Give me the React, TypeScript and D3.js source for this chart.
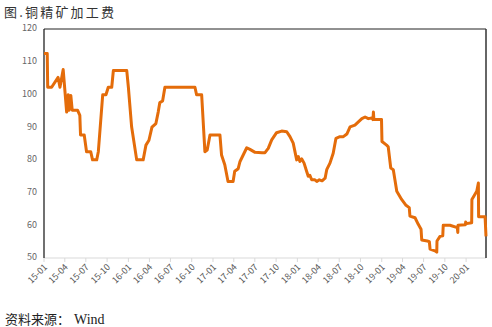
import React from "react";
import * as d3 from "d3";

const title = "图.铜精矿加工费";
const sourceLabel = "资料来源：";
const sourceName = "Wind";

const dates: string[] = [
  "2015-01-01","2015-01-15","2015-01-17","2015-02-03","2015-03-03","2015-03-11","2015-03-25","2015-04-09","2015-04-16","2015-04-20",
  "2015-04-27","2015-05-03","2015-05-26","2015-06-05","2015-06-08","2015-06-24","2015-07-04","2015-07-22","2015-07-30","2015-08-17",
  "2015-08-24","2015-09-12","2015-09-26","2015-10-06","2015-10-21","2015-10-28","2015-12-25","2016-01-01","2016-01-15","2016-02-06",
  "2016-03-05","2016-03-17","2016-03-30","2016-04-12","2016-04-29","2016-05-09","2016-05-16","2016-05-28","2016-06-07","2016-10-15",
  "2016-10-22","2016-11-13","2016-11-27","2016-12-07","2016-12-19","2017-01-31","2017-02-07","2017-02-21","2017-03-07","2017-03-29",
  "2017-04-05","2017-04-20","2017-04-28","2017-05-27","2017-06-10","2017-07-02","2017-08-01","2017-08-14","2017-08-28","2017-09-12",
  "2017-10-03","2017-10-25","2017-11-16","2017-11-30","2017-12-14","2017-12-29","2018-01-05","2018-01-12","2018-01-20","2018-01-30",
  "2018-02-10","2018-02-17","2018-02-24","2018-03-04","2018-03-18","2018-03-26","2018-04-06","2018-04-18","2018-05-01","2018-05-08",
  "2018-05-22","2018-06-05","2018-06-17","2018-07-04","2018-07-19","2018-08-03","2018-08-17","2018-09-07","2018-09-22","2018-10-07",
  "2018-10-21","2018-11-04","2018-11-19","2018-11-24","2018-11-26","2018-11-28","2018-12-31","2019-01-02","2019-01-22","2019-01-29",
  "2019-02-09","2019-02-20","2019-02-27","2019-03-07","2019-03-28","2019-04-16","2019-04-30","2019-05-03","2019-05-25","2019-06-08",
  "2019-06-20","2019-06-23","2019-07-17","2019-07-26","2019-07-29","2019-08-19","2019-08-27","2019-08-28","2019-09-10","2019-09-22",
  "2019-09-24","2019-10-23","2019-11-24","2019-11-26","2019-11-27","2019-12-29","2019-12-30","2020-01-03","2020-01-25","2020-01-26",
  "2020-02-16","2020-02-23","2020-02-24","2020-03-23","2020-03-27"
];

const tcValues: number[] = [
  112.5,112.5,102.2,102.2,105.2,102.2,107.6,94.6,99.9,95.2,
  99.7,95.2,95.2,93.6,87.6,87.6,82.5,82.5,80,80,
  82.5,99.9,99.9,102.2,102.2,107.3,107.3,102.2,90.1,80,
  80,84.5,86,90,91.1,94.6,97.5,98,102.2,102.2,
  99.9,99.9,82.5,83,87.6,87.6,81.5,78.5,73.4,73.4,
  76.5,77.3,79.5,83.7,83.2,82.3,82.2,82.2,83.5,86.1,
  88.3,88.8,88.6,87.1,85.1,80,81,79.5,80.3,79,
  76.5,75,75.3,73.9,73.9,73.4,73.9,73.6,74.4,77,
  79,82,86.6,87.1,87.1,87.9,90.1,90.6,91.6,92.6,
  93.1,92.6,92.8,92.3,94.6,92.3,92.3,85.6,84.5,84,
  77.5,77,73.9,70.4,67.9,66.1,65.4,62.8,62.3,60.3,
  58.8,55.5,55.2,55,52.7,52.2,51.8,55.2,56.6,56.8,
  60,60,59.3,57.8,60,60.2,61,60.5,60.8,67.9,
  70.4,72.9,62.6,62.6,56.6
];

const yTicks: number[] = [50, 60, 70, 80, 90, 100, 110, 120];

const W = 492;
const H = 327;
const left = 44;
const right = 486;
const top = 29;
const bottom = 258;

export default function App() {
  const parse = d3.timeParse("%Y-%m-%d");
  const data = dates.map((d, i) => ({ date: parse(d) as Date, value: tcValues[i] }));
  const x = d3
    .scaleTime()
    .domain([parse("2015-01-01") as Date, parse("2020-03-27") as Date])
    .range([left, right]);
  const y = d3.scaleLinear().domain([50, 120]).range([bottom, top]);
  const xTicks = d3.timeMonth.every(3)!.range(parse("2015-01-01") as Date, parse("2020-02-01") as Date);
  const fmt = d3.timeFormat("%y-%m");
  const line = d3
    .line<{ date: Date; value: number }>()
    .x((d) => x(d.date))
    .y((d) => y(d.value));

  return (
    <svg
      width={W}
      height={H}
      style={{ position: "absolute", left: 0, top: 0, background: "#fff" }}
      fontFamily="'Noto Sans CJK SC', 'Noto Sans', sans-serif"
    >
      <text x={4} y={17} fontSize={13} letterSpacing={2.2} fill="#333" fontFamily="'Noto Sans CJK SC', serif">
        {title}
      </text>
      {/* bottom axis */}
      <line x1={left} x2={right} y1={bottom} y2={bottom} stroke="#d9d9d9" strokeWidth={1} />
      {xTicks.map((t, i) => (
        <g key={i}>
          <line x1={x(t)} x2={x(t)} y1={bottom} y2={bottom + 4} stroke="#d9d9d9" />
          <text
            transform={`translate(${x(t) + 2},${bottom + 8}) rotate(-45)`}
            textAnchor="end"
            fontSize={9}
            fill="#595959"
            dominantBaseline="middle"
          >
            {fmt(t)}
          </text>
        </g>
      ))}
      {yTicks.map((v) => (
        <text key={v} x={37} y={y(v)} textAnchor="end" dominantBaseline="middle" fontSize={9} fill="#666">
          {v}
        </text>
      ))}
      {/* frame */}
      <line x1={left} x2={right} y1={top} y2={top} stroke="#222" strokeWidth={1} />
      <line x1={right} x2={right} y1={top} y2={bottom} stroke="#333" strokeWidth={1.5} />
      <line x1={left} x2={left} y1={top} y2={bottom} stroke="#111" strokeWidth={1.2} />
      <path d={line(data) || ""} fill="none" stroke="#E46C0A" strokeWidth={3} strokeLinejoin="round" />
      <text x={5} y={324} fontSize={13} fill="#222" fontFamily="'Noto Sans CJK SC', serif">
        {sourceLabel}
        <tspan dx={4} fontFamily="'Liberation Serif', serif" fontSize={14}>
          {sourceName}
        </tspan>
      </text>
    </svg>
  );
}
